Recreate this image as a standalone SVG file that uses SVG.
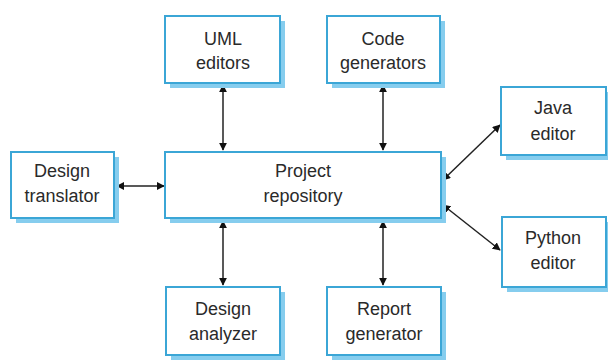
<svg xmlns="http://www.w3.org/2000/svg" width="608" height="363" viewBox="0 0 608 363">
<style>
.shadow{fill:#86cdee;stroke:none}
.box{fill:#ffffff;stroke:#3ba6d6;stroke-width:2}
.t{font-family:"Liberation Sans","Noto Sans",sans-serif;font-size:18px;fill:#2a2a2a;text-anchor:middle}
.c{stroke:#222222;stroke-width:1.5;fill:none;marker-start:url(#ah);marker-end:url(#ah)}
</style>
<defs>
<marker id="ah" viewBox="0 0 10 10" refX="9" refY="5" markerWidth="8" markerHeight="8" orient="auto-start-reverse" markerUnits="userSpaceOnUse">
<path d="M0,0 L10,5 L0,10 Z" fill="#111111"/>
</marker>
</defs>
<rect width="608" height="363" fill="#ffffff"/>
<g id="connectors">
<line class="c" x1="223" y1="85" x2="223" y2="150"/>
<line class="c" x1="383" y1="85" x2="383" y2="150"/>
<line class="c" x1="223" y1="221" x2="223" y2="285"/>
<line class="c" x1="383" y1="221" x2="383" y2="285"/>
<line class="c" x1="117" y1="186" x2="164" y2="186"/>
<line class="c" x1="443" y1="180" x2="500" y2="125"/>
<line class="c" x1="443" y1="205" x2="500" y2="250"/>
</g>
<g id="uml-editors">
<rect class="shadow" x="170" y="21" width="115" height="67"/>
<rect class="box" x="165" y="16" width="115" height="67"/>
<text class="t" x="223" y="45">UML</text>
<text class="t" x="223" y="69">editors</text>
</g>
<g id="code-generators">
<rect class="shadow" x="332" y="21" width="113" height="67"/>
<rect class="box" x="327" y="16" width="113" height="67"/>
<text class="t" x="383" y="45">Code</text>
<text class="t" x="383" y="69">generators</text>
</g>
<g id="design-translator">
<rect class="shadow" x="16" y="157" width="103" height="66"/>
<rect class="box" x="11" y="152" width="103" height="66"/>
<text class="t" x="62" y="177">Design</text>
<text class="t" x="62" y="202">translator</text>
</g>
<g id="project-repository">
<rect class="shadow" x="170" y="157" width="276" height="66"/>
<rect class="box" x="165" y="152" width="276" height="66"/>
<text class="t" x="303" y="177">Project</text>
<text class="t" x="303" y="202">repository</text>
</g>
<g id="java-editor">
<rect class="shadow" x="506" y="92" width="105" height="68"/>
<rect class="box" x="501" y="87" width="105" height="68"/>
<text class="t" x="553" y="114">Java</text>
<text class="t" x="553" y="140">editor</text>
</g>
<g id="python-editor">
<rect class="shadow" x="507" y="222" width="104" height="70"/>
<rect class="box" x="502" y="217" width="104" height="70"/>
<text class="t" x="553" y="244">Python</text>
<text class="t" x="553" y="269">editor</text>
</g>
<g id="design-analyzer">
<rect class="shadow" x="171" y="292" width="114" height="68"/>
<rect class="box" x="166" y="287" width="114" height="68"/>
<text class="t" x="223" y="315">Design</text>
<text class="t" x="223" y="340">analyzer</text>
</g>
<g id="report-generator">
<rect class="shadow" x="332" y="292" width="114" height="68"/>
<rect class="box" x="327" y="287" width="114" height="68"/>
<text class="t" x="384" y="315">Report</text>
<text class="t" x="384" y="340">generator</text>
</g>
</svg>
